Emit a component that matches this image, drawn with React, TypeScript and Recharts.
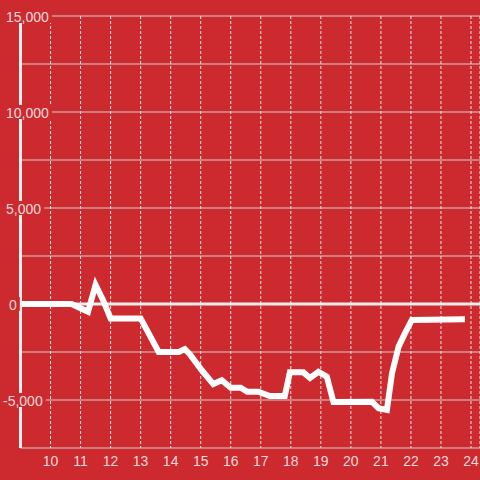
import React from 'react';
import { LineChart, Line, XAxis, YAxis, CartesianGrid, ReferenceLine } from 'recharts';

const hours = [9, 10.7, 11.25, 11.5, 11.75, 12, 13, 13.6, 14.27, 14.47, 14.63, 15.03, 15.42, 15.7, 16, 16.33, 16.55, 16.92, 17.3, 17.8, 17.97, 18.42, 18.64, 18.92, 19.2, 19.42, 20.7, 20.92, 21.2, 21.37, 21.59, 21.8, 22.03, 23.8];
const values = [0, 0, -400, 1000, 200, -750, -750, -2500, -2500, -2350, -2600, -3440, -4170, -3970, -4360, -4360, -4570, -4570, -4790, -4790, -3560, -3560, -3850, -3530, -3790, -5100, -5090, -5430, -5520, -3610, -2220, -1530, -830, -800];
const xTicks = [10, 11, 12, 13, 14, 15, 16, 17, 18, 19, 20, 21, 22, 23, 24];
const yTicks = [-7500, -5000, -2500, 0, 2500, 5000, 7500, 10000, 12500, 15000];
const yLabelStep = 5000;

const data = hours.map((h, i) => ({ h, v: values[i] }));

const BG = '#cc2a2f';
const TXT = '#f2d9d9';
const FONT = '"Liberation Sans", Arial, sans-serif';

function labelWidth(s: string) {
  let w = 0;
  for (const c of s) {
    if (c === ',') w += 3.9;
    else if (c === '-') w += 4.7;
    else w += 7.8;
  }
  return w;
}

function YTick(props: any) {
  const { y, payload } = props;
  const v = payload.value as number;
  if (v % yLabelStep !== 0) return <g />;
  const label = v.toLocaleString('en-US');
  const x0 = v > 0 ? 6 : v === 0 ? 9 : 3;
  const w = labelWidth(label);
  return (
    <g>
      <rect x={x0 - 2} y={y - 7} width={w + 5} height={14} fill={BG} />
      <text x={x0} y={y} dy={6} textAnchor="start" fill={TXT} fontSize={14} fontFamily={FONT}>
        {label}
      </text>
    </g>
  );
}

export default function App() {
  return (
    <div style={{ position: 'fixed', left: 0, top: 0, width: 480, height: 480, background: BG }}>
      <LineChart width={480} height={480} data={data} margin={{ top: 16, right: 0, bottom: 0, left: 0 }}>
        <CartesianGrid vertical={false} stroke="#d0d0d0" strokeWidth={1} />
        <CartesianGrid horizontal={false} stroke="#e8e8e8" strokeWidth={1} strokeDasharray="3 2" />
        <XAxis
          dataKey="h"
          type="number"
          domain={[9, 24.3]}
          ticks={xTicks}
          axisLine={false}
          tickLine={false}
          height={32}
          tick={{ fill: TXT, fontSize: 14, fontFamily: FONT }}
          interval={0}
          allowDataOverflow
        />
        <YAxis
          type="number"
          domain={[-7500, 15000]}
          ticks={yTicks}
          width={20.5}
          axisLine={{ stroke: '#eeeeee', strokeWidth: 3 }}
          tickLine={false}
          tick={<YTick />}
          interval={0}
        />
        <ReferenceLine y={0} stroke="#eeeeee" strokeWidth={3} />
        <Line
          dataKey="v"
          type="linear"
          stroke="#ffffff"
          strokeWidth={6}
          dot={false}
          activeDot={false}
          isAnimationActive={false}
        />
      </LineChart>
    </div>
  );
}
